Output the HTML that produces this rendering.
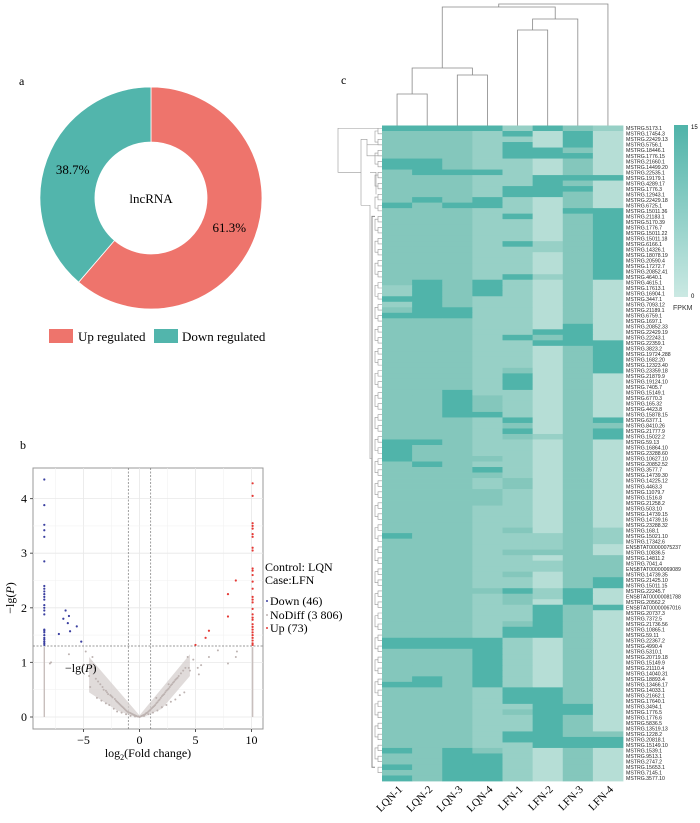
<!DOCTYPE html>
<html><head><meta charset="utf-8"><style>
html,body{margin:0;padding:0;background:#fff;}
svg{display:block;}
.serif{font-family:"Liberation Serif",serif;}
.sans{font-family:"Liberation Sans",sans-serif;}
</style></head><body>
<svg id="fig" width="700" height="823" viewBox="0 0 700 823" xmlns="http://www.w3.org/2000/svg">
  <g id="panelA">
    <text x="19" y="85" class="serif" font-size="12">a</text>
    <g id="donut"></g>
    <text x="151" y="203" class="serif" font-size="13" text-anchor="middle">lncRNA</text>
    <g>
      <rect x="49" y="329" width="24" height="14" fill="#ee746c"/>
      <text x="78" y="341" class="serif" font-size="13">Up regulated</text>
      <rect x="154" y="329" width="24" height="14" fill="#52b5ac"/>
      <text x="182" y="341" class="serif" font-size="13">Down regulated</text>
    </g>
  </g>
  <g id="panelB">
    <text x="20" y="449" class="serif" font-size="12">b</text>
    <g id="volcano"></g>
  </g>
  <g id="panelC">
    <text x="341" y="84" class="serif" font-size="12">c</text>
    <g id="heat"></g>
  </g>
</svg>
<script>
const NS="http://www.w3.org/2000/svg";
function mk(tag,attrs,parent){const e=document.createElementNS(NS,tag);for(const k in attrs)e.setAttribute(k,attrs[k]);parent.appendChild(e);return e;}

const donutLabels=["Up regulated","Down regulated"];
const donutValues=[61.3,38.7];
const donutColors=["#ee746c","#52b5ac"];

const downX=[-8.5,-8.5,-8.5,-8.5,-8.5,-8.5,-8.5,-8.5,-8.5,-8.5,-8.5,-8.5,-8.5,-8.5,-8.5,-8.5,-8.5,-8.5,-8.5,-8.5,-8.5,-8.5,-8.5,-8.5,-8.5,-7.2,-6.6,-6.3,-6.8,-6.4,-6.2,-5.6,-5.2];
const downY=[4.35,3.88,3.52,3.42,3.3,2.85,2.4,2.35,2.3,2.25,2.2,2.15,2.05,2.0,1.95,1.88,1.6,1.58,1.55,1.5,1.45,1.42,1.38,1.35,1.32,1.52,1.95,1.85,1.8,1.72,1.57,1.66,1.38];
const upX=[10.1,10.1,10.1,10.1,10.1,10.1,10.1,10.1,10.1,10.1,10.1,10.1,10.1,10.1,10.1,10.1,10.1,10.1,10.1,10.1,10.1,10.1,10.1,10.1,10.1,10.1,10.1,10.1,10.1,10.1,8.6,7.9,7.9,6.2,5.9,5.0];
const upY=[4.28,4.05,3.55,3.5,3.45,3.35,3.3,3.1,3.05,2.72,2.68,2.6,2.48,2.35,2.2,2.15,2.1,1.98,1.88,1.82,1.78,1.7,1.65,1.6,1.55,1.5,1.45,1.4,1.35,1.32,2.5,2.25,1.84,1.58,1.45,1.32];
const nodiffX=[-8.0,-7.9,-6.3,-5.0,-4.8,-4.5,-4.2,-4.0,-3.9,-3.7,-3.5,-3.3,-3.2,-3.0,-2.9,-2.8,-2.6,-2.5,-2.4,-2.2,-2.1,-2.0,-1.9,-1.8,-1.7,-1.6,-1.5,-1.4,-1.3,-1.2,-1.1,-1.0,-0.9,-0.8,-0.7,-0.6,-0.5,-0.4,-0.3,-0.2,-0.1,0,0.1,0.2,0.3,0.4,0.5,0.6,0.7,0.8,0.9,1.0,1.1,1.2,1.3,1.4,1.5,1.6,1.7,1.8,1.9,2.0,2.1,2.2,2.3,2.4,2.5,2.6,2.7,2.8,2.9,3.0,3.1,3.2,3.3,3.5,3.7,3.9,4.1,4.3,4.5,4.8,5.2,5.5,6.2,7.0,7.9,8.6,8.7,-3.8,-3.4,-2.7,-2.3,-1.6,-1.2,-0.8,-0.4,0.4,0.8,1.2,1.6,2.0,2.4,2.8,3.2,3.6,4.0,-4.4,-3.0,-2.0,1.5,2.6,3.4,4.4,5.3];
const nodiffY=[0.98,1.0,1.15,0.95,1.2,0.75,1.1,0.9,0.7,0.65,0.6,0.55,0.5,0.48,0.45,0.42,0.4,0.38,0.36,0.33,0.3,0.28,0.26,0.24,0.22,0.2,0.18,0.16,0.14,0.12,0.1,0.09,0.08,0.07,0.06,0.05,0.04,0.03,0.02,0.01,0.01,0.0,0.01,0.02,0.03,0.04,0.05,0.07,0.08,0.1,0.12,0.14,0.16,0.18,0.2,0.22,0.25,0.27,0.3,0.32,0.35,0.38,0.4,0.42,0.45,0.48,0.5,0.52,0.55,0.58,0.6,0.63,0.65,0.68,0.7,0.75,0.8,0.85,0.9,1.1,0.85,1.05,0.9,0.95,1.1,1.22,0.98,1.1,1.2,0.35,0.3,0.22,0.15,0.08,0.05,0.02,0.01,0.02,0.05,0.08,0.12,0.18,0.22,0.28,0.32,0.4,0.45,0.55,0.25,0.1,0.35,0.6,0.72,0.9,0.78];
const xTicks=[-5,0,5,10];
const yTicks=[0,1,2,3,4];

const samples=["LQN-1","LQN-2","LQN-3","LQN-4","LFN-1","LFN-2","LFN-3","LFN-4"];
const genes=["MSTRG.5173.1","MSTRG.17454.3","MSTRG.22429.13","MSTRG.5756.1","MSTRG.18446.1","MSTRG.1776.15","MSTRG.21660.1","MSTRG.14499.20","MSTRG.22535.1","MSTRG.19179.1","MSTRG.4289.17","MSTRG.1776.3","MSTRG.12943.1","MSTRG.22429.18","MSTRG.6725.1","MSTRG.15011.36","MSTRG.21183.1","MSTRG.5170.39","MSTRG.1776.7","MSTRG.15011.22","MSTRG.15011.18","MSTRG.6166.1","MSTRG.14326.1","MSTRG.18078.19","MSTRG.20590.4","MSTRG.17272.7","MSTRG.20852.41","MSTRG.4640.1","MSTRG.4615.1","MSTRG.17613.1","MSTRG.16904.1","MSTRG.3447.1","MSTRG.7093.12","MSTRG.21189.1","MSTRG.6759.1","MSTRG.1697.1","MSTRG.20852.33","MSTRG.22429.19","MSTRG.22243.1","MSTRG.22359.1","MSTRG.3823.2","MSTRG.19724.288","MSTRG.1682.20","MSTRG.12323.40","MSTRG.23359.18","MSTRG.21879.9","MSTRG.19124.10","MSTRG.7405.7","MSTRG.15149.1","MSTRG.6770.3","MSTRG.165.32","MSTRG.4423.8","MSTRG.15878.15","MSTRG.6377.1","MSTRG.8410.26","MSTRG.21777.9","MSTRG.15022.2","MSTRG.59.13","MSTRG.16864.10","MSTRG.23288.60","MSTRG.10627.10","MSTRG.20852.52","MSTRG.3577.7","MSTRG.14739.30","MSTRG.14225.12","MSTRG.4463.3","MSTRG.11079.7","MSTRG.1516.8","MSTRG.21258.2","MSTRG.503.10","MSTRG.14739.15","MSTRG.14739.16","MSTRG.23288.32","MSTRG.168.1","MSTRG.15021.10","MSTRG.17342.6","ENSBTAT00000075237","MSTRG.10836.5","MSTRG.14811.2","MSTRG.7041.4","ENSBTAT00000069089","MSTRG.14739.35","MSTRG.21425.10","MSTRG.15011.15","MSTRG.22245.7","ENSBTAT00000081788","MSTRG.20562.2","ENSBTAT00000067016","MSTRG.20737.3","MSTRG.7372.5","MSTRG.21736.56","MSTRG.10865.1","MSTRG.59.11","MSTRG.22367.2","MSTRG.4990.4","MSTRG.5310.1","MSTRG.20719.18","MSTRG.15149.9","MSTRG.21110.4","MSTRG.14040.31","MSTRG.18893.4","MSTRG.13466.17","MSTRG.14033.1","MSTRG.21662.1","MSTRG.17640.1","MSTRG.3494.1","MSTRG.1776.5","MSTRG.1776.6","MSTRG.5836.5","MSTRG.13519.13","MSTRG.1228.2","MSTRG.20818.1","MSTRG.15149.10","MSTRG.1539.1","MSTRG.9513.1","MSTRG.2747.2","MSTRG.15653.1","MSTRG.7145.1","MSTRG.3577.10"];
const levels=["33331321","22213030","22211030","22213030","22213320","22213330","33211020","33211020","23331020","22211333","22211320","22213330","22213320","23231020","32331020","22211033","22213023","22211023","22211023","22211023","22211023","22213123","22211123","22211023","22211023","22211023","22211023","22213123","23231020","13231020","13231020","33211020","13211020","23311020","33311020","22211020","22211030","22211330","22213230","22211333","22211023","22211023","22211023","22211023","22212023","22213020","22213020","22213020","22311020","22321020","22321020","22321020","22331020","22213023","22212022","22213023","22212123","33211020","32211020","32211020","32221020","23211020","22231020","22221020","22212020","22212020","22221020","22221020","22221020","22211020","22211020","22211020","22211020","22212021","32211121","22211121","22211120","22212220","22211022","22211122","22211122","22212022","22211023","22211023","22223130","22212130","22212030","22211323","22211320","22211320","22212320","22213320","22213320","33331020","33331020","22231020","22231020","22231020","22231020","22231020","23231020","33231020","22213320","22213320","22213320","22211330","22212330","22211320","22211320","22211320","22213322","22213333","22211333","32321020","22331020","22331020","32331020","22331020","32331020"];
const levelColors=["#b6ded6","#97d0c6","#84c7bc","#50b4aa"];

(function(){
  const g=document.getElementById('donut');
  const cx=151,cy=198,R=111,r=56;
  const total=donutValues.reduce((a,b)=>a+b,0);
  let a0=-Math.PI/2;
  donutValues.forEach((v,i)=>{
    const a1=a0+v/total*2*Math.PI;
    const large=(a1-a0)>Math.PI?1:0;
    const p=(rad,a)=>[cx+rad*Math.cos(a),cy+rad*Math.sin(a)];
    const [x0,y0]=p(R,a0),[x1,y1]=p(R,a1),[x2,y2]=p(r,a1),[x3,y3]=p(r,a0);
    const path=mk('path',{d:`M${x0},${y0}A${R},${R} 0 ${large} 1 ${x1},${y1}L${x2},${y2}A${r},${r} 0 ${large} 0 ${x3},${y3}Z`,fill:donutColors[i],stroke:'#fff','stroke-width':0.8},g);
    
    
    const am=(a0+a1)/2,rl=(R+r)/2;
    const t=mk('text',{x:cx+rl*Math.cos(am),y:cy+rl*Math.sin(am)+5,'text-anchor':'middle','font-size':13,class:'serif'},g);
    t.textContent=v.toFixed(1)+'%';
    
    
    a0=a1;
  });
})();

(function(){
  const g=document.getElementById('volcano');
  const L=33,T=468,Rr=263,B=729;
  const sx=v=>139.5+v*11.2, sy=v=>717-v*54.6;
  const bg=mk('rect',{x:L,y:T,width:Rr-L,height:B-T,fill:'#fff',stroke:'#999','stroke-width':1},g);
  
  
  [-7.5,-2.5,2.5,7.5].forEach(v=>{mk('line',{x1:sx(v),x2:sx(v),y1:T,y2:B,stroke:'#f2f2f2','stroke-width':0.6},g);});
  xTicks.forEach(v=>{mk('line',{x1:sx(v),x2:sx(v),y1:T,y2:B,stroke:'#e8e8e8','stroke-width':0.8},g);});
  [0.5,1.5,2.5,3.5].forEach(v=>{mk('line',{x1:L,x2:Rr,y1:sy(v),y2:sy(v),stroke:'#f2f2f2','stroke-width':0.6},g);});
  yTicks.forEach(v=>{mk('line',{x1:L,x2:Rr,y1:sy(v),y2:sy(v),stroke:'#e8e8e8','stroke-width':0.8},g);});
  [[sx(-1),T,sx(-1),B],[sx(1),T,sx(1),B],[L,sy(1.3),Rr,sy(1.3)]].forEach(c=>{
    const l=mk('line',{x1:c[0],y1:c[1],x2:c[2],y2:c[3],stroke:'#777','stroke-width':0.7,'stroke-dasharray':'2,1.5'},g);
    
    
  });
  [-8.5,10.1].forEach(v=>{const l=mk('line',{x1:sx(v),x2:sx(v),y1:sy(0),y2:sy(1.28),stroke:'#c8bfbd','stroke-width':1.4},g);
    
    });
  const band=mk('path',{d:`M${sx(-4.5)},${sy(1.1)}L${sx(0)},${sy(0.03)}L${sx(4.5)},${sy(1.15)}L${sx(4.5)},${sy(0.75)}L${sx(2)},${sy(0.15)}L${sx(0.4)},${sy(0)}L${sx(-0.4)},${sy(0)}L${sx(-2)},${sy(0.12)}L${sx(-4.5)},${sy(0.45)}Z`,fill:'#d6cfcd',opacity:0.75},g);
  
  
  nodiffX.forEach((x,i)=>{const c=mk('circle',{cx:sx(x),cy:sy(nodiffY[i]),r:1,fill:'#bdb3b1'},g);
    
    });
  downX.forEach((x,i)=>{const c=mk('circle',{cx:sx(x),cy:sy(downY[i]),r:1.1,fill:'#3a3fa0'},g);
    
    });
  upX.forEach((x,i)=>{const c=mk('circle',{cx:sx(x),cy:sy(upY[i]),r:1.1,fill:'#e53935'},g);
    
    });
  xTicks.forEach(v=>{mk('line',{x1:sx(v),x2:sx(v),y1:B,y2:B+3,stroke:'#555'},g);
    const t=mk('text',{x:sx(v),y:B+15,'text-anchor':'middle','font-size':12,class:'serif'},g);
    t.textContent=v<0?'\u2212'+(-v):String(v);
    
    });
  yTicks.forEach(v=>{mk('line',{x1:L-3,x2:L,y1:sy(v),y2:sy(v),stroke:'#555'},g);
    const t=mk('text',{x:L-6,y:sy(v)+4,'text-anchor':'end','font-size':12,class:'serif'},g);
    t.textContent=String(v);
    
    });
  const xt=mk('text',{x:148,y:757,'text-anchor':'middle','font-size':12,class:'serif'},g);
  xt.innerHTML='log<tspan font-size="8" dy="3">2</tspan><tspan dy="-3">(Fold change)</tspan>';
  
  
  const yt=mk('text',{x:0,y:0,transform:'translate(14,598) rotate(-90)','text-anchor':'middle','font-size':12,class:'serif'},g);
  yt.innerHTML='\u2212lg(<tspan font-style="italic">P</tspan>)';
  
  
  const an=mk('text',{x:65,y:672,'font-size':12,class:'serif'},g);
  an.innerHTML='\u2212lg(<tspan font-style="italic">P</tspan>)';
  
  
  const lg=[["Control: LQN",571,null],["Case:LFN",584,null],["Down (46)",605,'#3a3fa0'],["NoDiff (3 806)",619,'#bdb3b1'],["Up (73)",632,'#e53935']];
  lg.forEach(([s,y,c])=>{
    const t=mk('text',{x:c?270:265,y:y,'font-size':12,class:'serif'},g);
    t.textContent=s;
    
    
    if(c){const d=mk('circle',{cx:267,cy:y-4,r:1,fill:c},g);
      
      }
  });
})();

(function(){
  const g=document.getElementById('heat');
  const X0=382,X1=623,Y0=125.5,Y1=781;
  const cw=(X1-X0)/samples.length, rh=(Y1-Y0)/genes.length;
  const colX=i=>X0+i*cw, rowY=j=>Y0+j*rh;
  levels.forEach((row,j)=>{
    for(let i=0;i<samples.length;i++){
      const c=mk('rect',{x:colX(i),y:rowY(j),width:cw+0.4,height:rh+0.4,fill:levelColors[+row[i]]},g);
      
      
    }
  });
  genes.forEach((s,j)=>{
    const t=mk('text',{x:X1+3,y:rowY(j)+rh-0.8,'font-size':5.2,class:'sans',fill:'#222'},g);
    t.textContent=s;
    
    
  });
  samples.forEach((s,i)=>{
    const cx=colX(i)+cw/2;
    const t=mk('text',{x:0,y:0,transform:`translate(${cx+6},${Y1+9}) rotate(-45)`,'text-anchor':'end','font-size':11,class:'serif'},g);
    t.textContent=s;
    
    
  });
  const cc=i=>colX(i)+cw/2;
  const dg=mk('g',{stroke:'#888','stroke-width':0.8,fill:'none'},g);
  
  
  const seg=(d)=>mk('path',{d:d},dg);
  const a=(cc(0)+cc(1))/2,b=(cc(2)+cc(3))/2,ab=(a+b)/2,c=(cc(4)+cc(5))/2,cd=(c+cc(6))/2,top1=(ab+cd)/2;
  seg(`M${cc(0)},${Y0}V94H${cc(1)}V${Y0}`);
  seg(`M${cc(2)},${Y0}V75H${cc(3)}V${Y0}`);
  seg(`M${a},94V68H${b}V75`);
  seg(`M${cc(4)},${Y0}V30H${cc(5)}V${Y0}`);
  seg(`M${c},30V19H${cc(6)}V${Y0}`);
  seg(`M${ab},68V7H${cd}V19`);
  seg(`M${top1},7V4H${cc(7)}V${Y0}`);
  const rg=mk('g',{stroke:'#999','stroke-width':0.6,fill:'none'},g);
  
  
  const rc=j=>rowY(j)+rh/2;
  for(let j=0;j+1<genes.length;j+=2){mk('path',{d:`M${X0},${rc(j)}H378V${rc(j+1)}H${X0}`},rg);}
  for(let j=0;j+3<genes.length;j+=4){mk('path',{d:`M378,${(rc(j)+rc(j+1))/2}H375V${(rc(j+2)+rc(j+3))/2}H378`},rg);}
  mk('path',{d:`M375,${rc(16)}H372V${rc(116)}H375`,stroke:'#888','stroke-width':1},rg);
  mk('path',{d:`M${X0},${rc(0)}H338V${rc(8)}H361`},rg);
  mk('path',{d:`M361,${rc(2)}V${rc(14)}`},rg);
  mk('path',{d:`M361,${rc(2)}H367V${rc(5)}H${X0}`},rg);
  mk('path',{d:`M361,${rc(14)}H370V${rc(60)}H372`},rg);
  mk('path',{d:`M367,${rc(3)}H${X0}`},rg);
  mk('path',{d:`M370,${rc(8)}H376V${rc(12)}`},rg);
  const defs=mk('defs',{},g);
  const lgd=mk('linearGradient',{id:'cb',x1:0,y1:0,x2:0,y2:1},defs);
  mk('stop',{offset:0,'stop-color':'#4fb3a9'},lgd);
  mk('stop',{offset:1,'stop-color':'#cbe9e3'},lgd);
  const cb=mk('rect',{x:674,y:125,width:14,height:172,fill:'url(#cb)'},g);
  
  
  [['15',129],['0',298]].forEach(([s,y])=>{const t=mk('text',{x:691,y:y,'font-size':6,class:'sans'},g);t.textContent=s;
    
    });
  const f=mk('text',{x:673,y:310,'font-size':7,class:'sans',fill:'#333'},g);f.textContent='FPKM';
  
  
})();
</script>
</body></html>
